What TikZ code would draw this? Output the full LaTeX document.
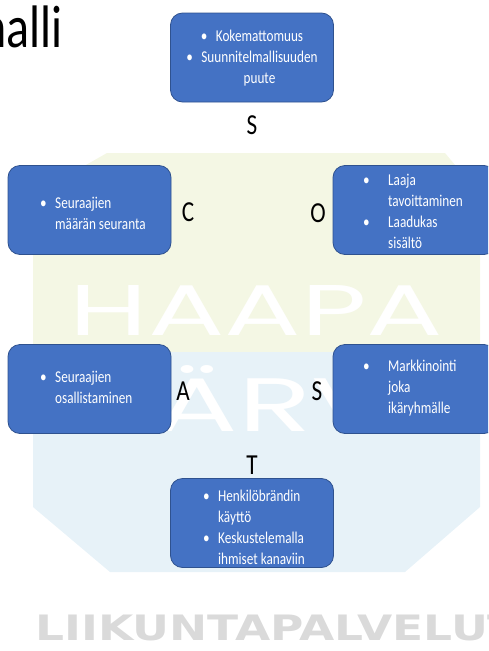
\documentclass[tikz,border=0pt]{standalone}
\usepackage{fontspec}
\usepackage{graphicx}
\setmainfont{Carlito}[FakeStretch=0.8]
\newfontfamily\wmfont{Poppins}
\newfontfamily\lkfont{DejaVu Sans}[FakeStretch=1.3]
\definecolor{boxblue}{HTML}{4472C4}
\definecolor{boxedge}{HTML}{2F528F}
\definecolor{wmgreen}{RGB}{244,247,228}
\definecolor{wmblue}{RGB}{231,242,248}
\definecolor{lkgray}{RGB}{218,218,218}
\newcommand{\bltx}[2]{\makebox[#1][l]{\textbullet}#2}
\newcommand{\cntx}[2]{\hspace*{#1}#2}
\tikzset{
    boxsty/.style={rectangle,draw=boxedge,line width=0.8pt,fill=boxblue,rounded corners=12pt,minimum width=163pt,minimum height=89pt},
    txtsty/.style={text=white,inner sep=0pt,anchor=west,align=left,font=\fontsize{16.5}{21}\selectfont},
    lblsty/.style={inner sep=0pt,font=\fontsize{29}{32}\selectfont},
    wmsty/.style={text=white,inner sep=0pt},
}

\begin{document}
\begin{tikzpicture}[x=1pt,y=-1pt]
\useasboundingbox (0,0) rectangle (488,651);
\clip (0,0) rectangle (488,651);

% watermark
\fill[wmgreen] (107,153) -- (445,153) -- (480,195) -- (480,352) -- (33,352) -- (33,195) -- cycle;
\fill[wmblue] (33,352) -- (480,352) -- (480,507) -- (405,572) -- (110,572) -- (33,507) -- cycle;
\node[wmsty] (haapa) at (256.5,310) {\resizebox{373pt}{50pt}{\wmfont HAAPA}};
\node[wmsty] (jarvi) at (258,399) {\resizebox{330pt}{66pt}{\wmfont JÄRVI}};
\node[inner sep=0pt,anchor=base west,text=lkgray,font=\lkfont\bfseries\fontsize{35}{40}\selectfont] (liik) at (35,640) {LIIKUNTAPALVELUT};

\node[inner sep=0pt,anchor=base east,font=\fontsize{60}{62}\selectfont] (title) at (63,47) {malli};

% boxes
\node[boxsty] (sit) at (252,57.5) {};
\node[boxsty] (obj) at (414.5,210) {};
\node[boxsty] (con) at (89.5,210) {};
\node[boxsty] (str) at (414.5,389) {};
\node[boxsty] (act) at (89.5,389) {};
\node[boxsty] (tac) at (252,523) {};

\node[txtsty,anchor=center,align=center] (sit-t) at (252,58) {\bltx{15pt}{Kokemattomuus}\\\bltx{15pt}{Suunnitelmallisuuden}\\\cntx{15pt}{puute}};
\node[txtsty] (con-t) at (40,213) {\bltx{15pt}{Seuraajien}\\\cntx{15pt}{määrän seuranta}};
\node[txtsty] (obj-t) at (363,211) {\bltx{25pt}{Laaja}\\\cntx{25pt}{tavoittaminen}\\\bltx{25pt}{Laadukas}\\\cntx{25pt}{sisältö}};
\node[txtsty] (act-t) at (40,387) {\bltx{15pt}{Seuraajien}\\\cntx{15pt}{osallistaminen}};
\node[txtsty] (str-t) at (363,388) {\bltx{25pt}{Markkinointi}\\\cntx{25pt}{joka}\\\cntx{25pt}{ikäryhmälle}};
\node[txtsty] (tac-t) at (203,527) {\bltx{15pt}{Henkilöbrändin}\\\cntx{15pt}{käyttö}\\\bltx{15pt}{Keskustelemalla}\\\cntx{15pt}{ihmiset kanaviin}};

% letters
\node[lblsty] (sit-l) at (252,125) {S};
\node[lblsty] (obj-l) at (318,213) {O};
\node[lblsty] (con-l) at (188,212) {C};
\node[lblsty] (str-l) at (317,391) {S};
\node[lblsty] (act-l) at (183,391) {A};
\node[lblsty] (tac-l) at (252,465) {T};
\end{tikzpicture}
\end{document}
